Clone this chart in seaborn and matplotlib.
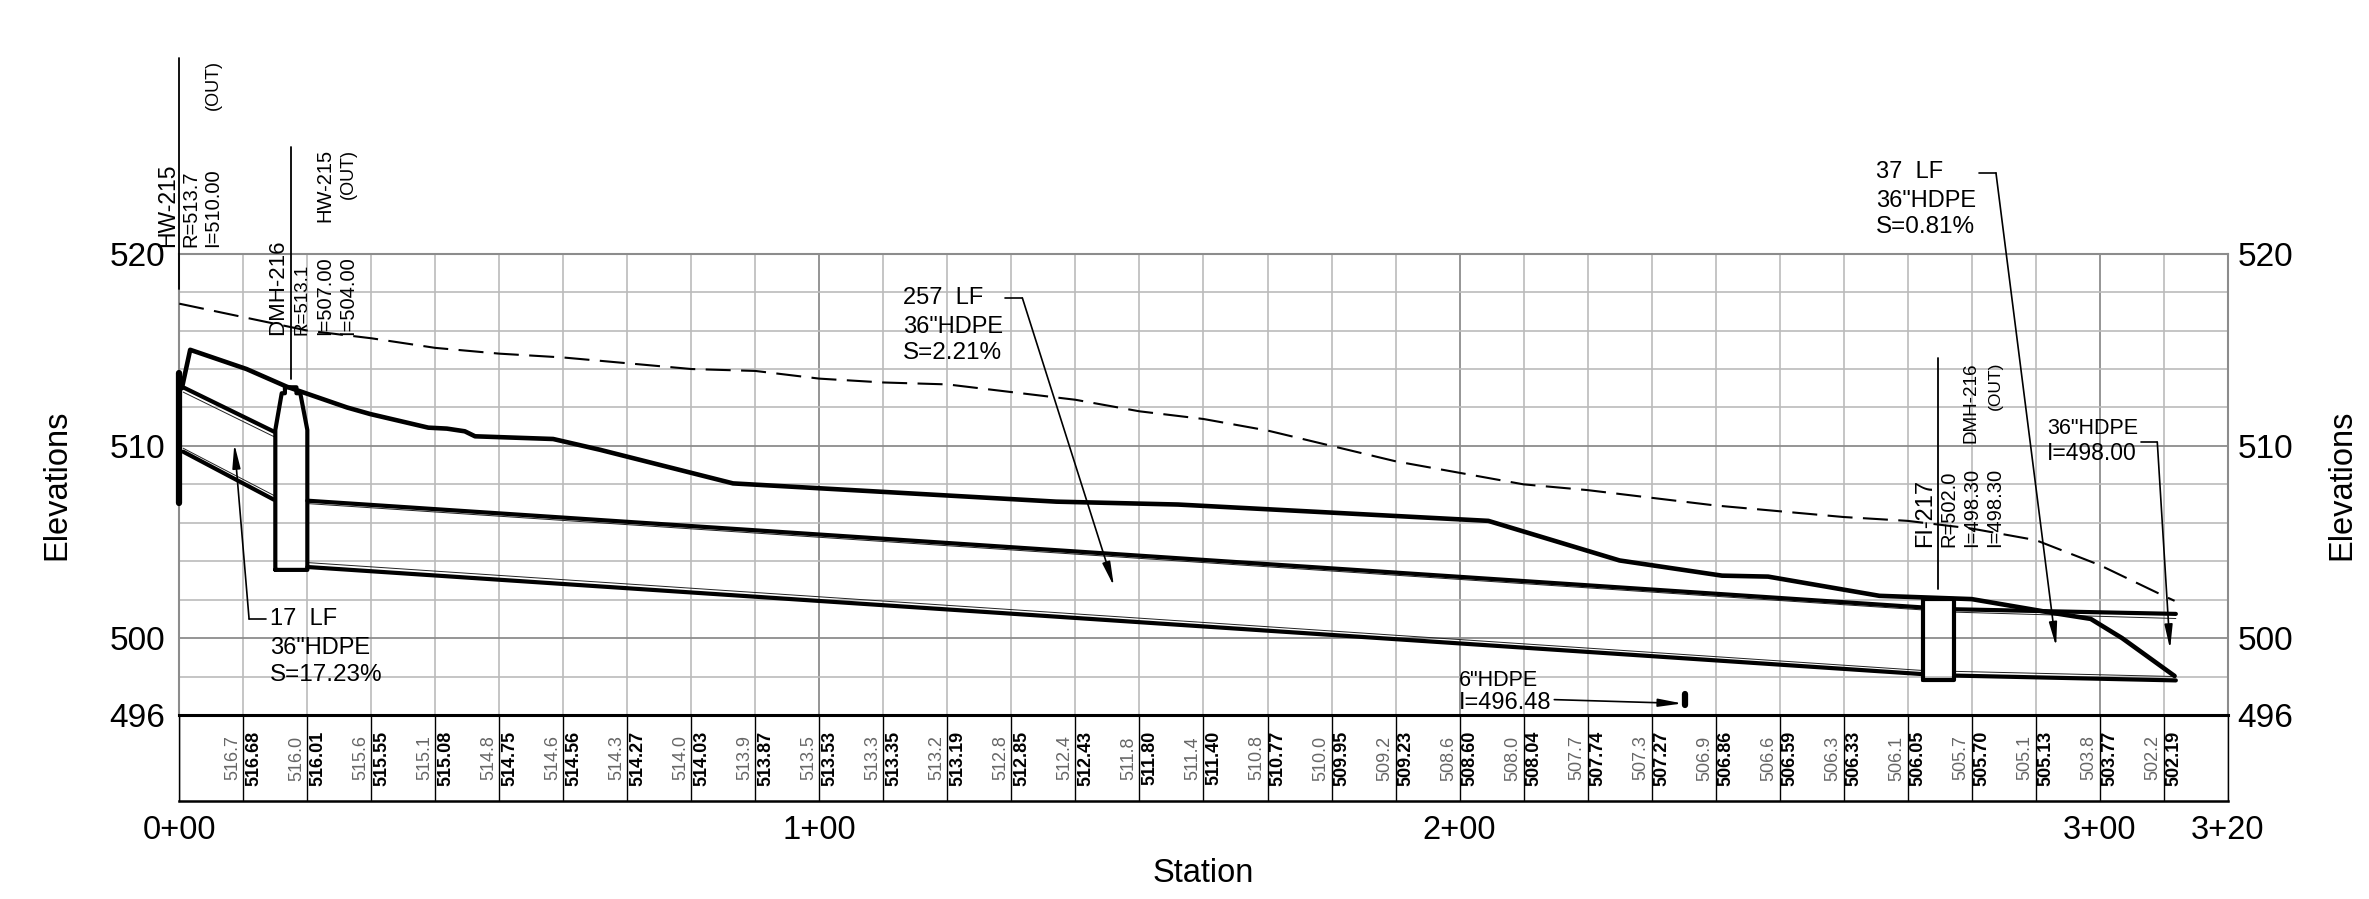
import numpy as np
import matplotlib
matplotlib.use("Agg")
import matplotlib.pyplot as plt
import seaborn as sns

W, H = 2369, 899

# stations of the band rows, every 10 ft
band_stations = list(range(10, 320, 10))
existing_grade = [516.7, 516.0, 515.6, 515.1, 514.8, 514.6, 514.3, 514.0, 513.9, 513.5, 513.3,
                  513.2, 512.8, 512.4, 511.8, 511.4, 510.8, 510.0, 509.2, 508.6, 508.0,
                  507.7, 507.3, 506.9, 506.6, 506.3, 506.1, 505.7, 505.1, 503.8, 502.2]
proposed_grade = ["516.68", "516.01", "515.55", "515.08", "514.75", "514.56", "514.27", "514.03",
                  "513.87", "513.53", "513.35", "513.19", "512.85", "512.43", "511.80", "511.40",
                  "510.77", "509.95", "509.23", "508.60", "508.04", "507.74", "507.27", "506.86",
                  "506.59", "506.33", "506.05", "505.70", "505.13", "503.77", "502.19"]

# dashed line adds its two end points to the band values
dashed_x = [0] + band_stations + [311.7]
dashed_y = [517.4] + existing_grade + [501.94]

# heavy ground profile
ground_x = [0.4, 1.7, 10.5, 16.8, 26.2, 29.8, 38.9, 41.8, 44.6, 46.2, 58.4, 65.7, 86.5, 137, 156,
            204.5, 225, 241, 248.2, 265.6, 280, 292.3, 298.6, 303.5, 311.7]
ground_y = [513.0, 515.0, 514.0, 513.08, 512.0, 511.66, 510.95, 510.9, 510.76, 510.5, 510.36,
            509.8, 508.05, 507.1, 506.95, 506.1, 504.04, 503.25, 503.2, 502.2, 502.03, 501.33,
            501.0, 500.0, 498.03]

# pipes: start station, end station, then elevations at both ends
pipe_x = [[0.6, 14.8], [20, 272.2], [277.5, 311.9]]
crown_y = [[513.05, 510.74], [507.15, 501.6], [501.5, 501.26]]
crown_in_y = [[512.8, 510.48], [507.0, 501.47], [501.35, 501.02]]
invert_y = [[509.7, 507.2], [503.7, 498.13], [498.05, 497.8]]
invert_in_y = [[509.88, 507.42], [503.93, 498.32], [498.27, 498.0]]

# structures
dmh_x = [15, 15, 16, 16.5, 16.5, 18.3, 18.3, 18.9, 20, 20, 15]
dmh_y = [503.55, 510.83, 512.74, 512.74, 513.05, 513.05, 512.74, 512.74, 510.83, 503.55, 503.55]
fi_x = [272.4, 272.4, 277.2, 277.2, 272.4]
fi_y = [497.83, 502.03, 502.03, 497.83, 497.83]
hw_x = [0, 0]
hw_y = [507.02, 513.78]
plug_x = [235.2, 235.2]
plug_y = [496.5, 497.1]

# vertical leaders above the structures
stake_x = [[0, 0], [17.4, 17.4], [274.8, 274.8]]
stake_y = [[518.15, 530.16], [513.5, 525.56], [502.55, 514.56]]

# leaders: horizontal stub, bend, arrow tip
leader_x = [[13.6, 10.9, 8.6], [129, 131.7, 146], [281.1, 283.8, 293.2], [306.4, 309, 311]]
leader_y = [[501, 501, 510.1], [517.7, 517.7, 502.7], [524.2, 524.2, 499.56], [510.2, 510.2, 499.43]]
stub_x = [214.8, 234.8]
stub_y = [496.8, 496.6]

# (x px, y centre px, text, size)
notes = [(903, 298, "257  LF", 17), (903, 327, '36"HDPE', 17), (903, 353, "S=2.21%", 17.5),
         (1876, 172, "37  LF", 17), (1876, 201, '36"HDPE', 17), (1876, 227, "S=0.81%", 17.5),
         (270, 619, "17  LF", 17), (270, 648, '36"HDPE', 17), (270, 675, "S=17.23%", 17.5),
         (2047, 428, '36"HDPE', 15.5), (2047, 453, "I=498.00", 16.5),
         (1459, 681, '6"HDPE', 15.5), (1459, 703, "I=496.48", 17)]
# (x centre px, bottom px, text, size)
rotated = [(168, 247, "HW-215", 16.5), (191, 247, "R=513.7", 14.5), (213, 247, "I=510.00", 14.5),
           (213, 110, "(OUT)", 13), (325, 222, "HW-215", 14.5), (348, 199, "(OUT)", 13),
           (278, 335, "DMH-216", 16), (302, 335, "R=513.1", 13.5), (325, 335, "I=507.00", 14.5),
           (348, 335, "I=504.00", 14.5), (1925, 547, "FI-217", 17), (1949, 547, "R=502.0", 14.5),
           (1972, 547, "I=498.30", 14.5), (1995, 547, "I=498.30", 14.5),
           (1971, 443, "DMH-216", 13.6), (1995, 410, "(OUT)", 12.5)]

elev_ticks = [496, 500, 510, 520]
station_ticks = [0, 100, 200, 300, 320]
station_labels = ["0+00", "1+00", "2+00", "3+00", "3+20"]

sns.set_theme(style="white")
plt.rcParams["font.family"] = ["Liberation Sans", "DejaVu Sans"]
plt.rcParams["text.color"] = "black"
plt.rcParams["axes.labelcolor"] = "black"
plt.rcParams["xtick.color"] = "black"
plt.rcParams["ytick.color"] = "black"

fig = plt.figure(figsize=(W / 100, H / 100), dpi=100)
left, right = 179.3 / W, 2227.7 / W
ax = fig.add_axes([left, 1 - 715 / H, right - left, (715 - 253.7) / H])
band = fig.add_axes([left, 1 - 801 / H, right - left, 86 / H])


def line(x, y, lw, color="black", **kws):
    sns.lineplot(x=x, y=y, ax=ax, estimator=None, sort=False, color=color, linewidth=lw,
                 clip_on=False, legend=False, **kws)


line(dashed_x, dashed_y, 1.5, linestyle=(0, (12, 5)), zorder=3)
line(ground_x, ground_y, 3.3, solid_capstyle="round", zorder=4)
for x, c, ci, v, vi in zip(pipe_x, crown_y, crown_in_y, invert_y, invert_in_y):
    line(x, c, 3.0, zorder=4)
    line(x, v, 3.0, zorder=4)
    line(x, ci, 0.7, color="#222222", zorder=3)
    line(x, vi, 0.7, color="#222222", zorder=3)
line(dmh_x, dmh_y, 3.0, zorder=4)
line(fi_x, fi_y, 3.0, zorder=4)
line(hw_x, hw_y, 4.5, solid_capstyle="round", zorder=5)
line(plug_x, plug_y, 4.5, solid_capstyle="round", zorder=5)
for x, y in zip(stake_x, stake_y):
    line(x, y, 1.3, zorder=5)

arrow = "-|>,head_length=1.44,head_width=0.24"
for x, y in zip(leader_x, leader_y):
    line(x[:2], y[:2], 1.2, zorder=5)
    ax.annotate("", xy=(x[2], y[2]), xytext=(x[1], y[1]), zorder=5, annotation_clip=False,
                arrowprops=dict(arrowstyle=arrow, color="black", lw=1.2, shrinkA=0, shrinkB=0,
                                mutation_scale=10))
ax.annotate("", xy=(stub_x[1], stub_y[1]), xytext=(stub_x[0], stub_y[0]), annotation_clip=False,
            arrowprops=dict(arrowstyle=arrow, color="black", lw=1.2, shrinkA=0, shrinkB=0,
                            mutation_scale=10))

ax.set_xlim(0, 320)
ax.set_ylim(496, 520)
ax.set_xticks(station_ticks)
ax.set_xticks(band_stations, minor=True)
ax.set_yticks(elev_ticks)
ax.set_yticks(range(496, 521, 2), minor=True)
ax.grid(which="minor", color="#bbbbbb", linewidth=1.2)
ax.grid(which="major", color="#8c8c8c", linewidth=1.3)
ax.set_axisbelow(True)
ax.tick_params(which="both", length=0, labelbottom=False)
ax.tick_params(axis="y", which="major", labelsize=24, pad=10)
ax.tick_params(axis="y", which="minor", labelleft=False)
ax.set_xlabel("")
ax.set_ylabel("Elevations", fontsize=23.5, labelpad=27)
for s in ["left", "right", "top"]:
    ax.spines[s].set_color("#8c8c8c")
    ax.spines[s].set_linewidth(1.5)
ax.spines["bottom"].set_visible(False)

twin = ax.twinx()
twin.set_ylim(496, 520)
twin.set_yticks(elev_ticks)
twin.tick_params(axis="y", length=0, labelsize=24, pad=7)
twin.set_ylabel("Elevations", fontsize=23.5, labelpad=24)
twin.grid(False)
for s in twin.spines.values():
    s.set_visible(False)

band.set_xlim(0, 320)
band.set_ylim(0, 1)
band.set_yticks([])
band.set_xticks(station_ticks)
band.set_xticklabels(station_labels)
band.set_xticks(band_stations, minor=True)
band.grid(which="both", axis="x", color="black", linewidth=1.0)
band.tick_params(which="both", length=0)
band.tick_params(axis="x", which="major", labelsize=23.5, pad=10)
band.set_xlabel("Station", fontsize=23.5, labelpad=9)
for s in band.spines.values():
    s.set_color("black")
    s.set_linewidth(1.0)
band.spines["top"].set_linewidth(2.2)
band.spines["bottom"].set_linewidth(1.8)

# grade values either side of each station line
off = 10.7 / 6.4
for st, ex, pr in zip(band_stations, existing_grade, proposed_grade):
    band.text(st - off, 0.5, f"{ex:.1f}", rotation=90, ha="center", va="center", fontsize=13,
              color="#666666")
    band.text(st + off, 0.5, pr, rotation=90, ha="center", va="center", fontsize=13,
              fontweight="bold", color="black")

for x, y, s, size in notes:
    fig.text(x / W, 1 - y / H, s, fontsize=size, va="center", ha="left")
for x, y, s, size in rotated:
    fig.text(x / W, 1 - y / H, s, fontsize=size, rotation=90, ha="center", va="bottom")

fig.savefig("out.png", dpi=100, facecolor="white")
